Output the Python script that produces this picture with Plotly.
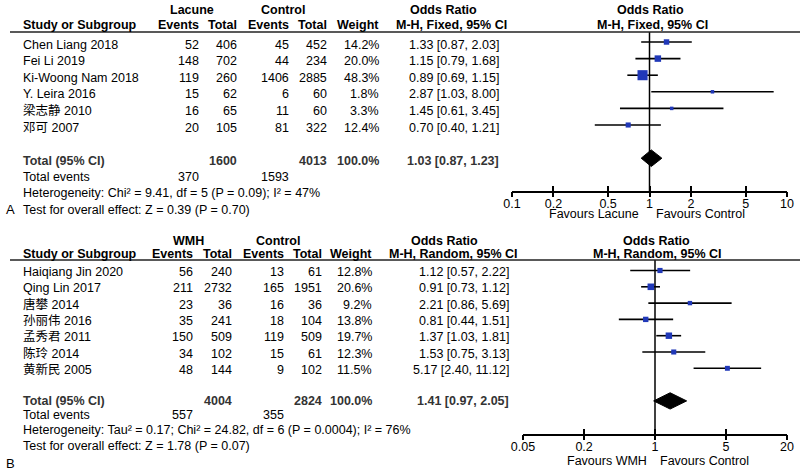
import math
import plotly.graph_objects as go

# ---------------- Data: Panel A (Lacune vs Control, M-H Fixed) ----------------
studiesA = ["Chen Liang 2018", "Fei Li 2019", "Ki-Woong Nam 2018", "Y. Leira 2016", "梁志静 2010", "邓可 2007"]
eventsLacune = [52, 148, 119, 15, 16, 20]
totalLacune = [406, 702, 260, 62, 65, 105]
eventsCtrlA = [45, 44, 1406, 6, 11, 81]
totalCtrlA = [452, 234, 2885, 60, 60, 322]
weightA = [14.2, 20.0, 48.3, 1.8, 3.3, 12.4]
orA = [1.33, 1.15, 0.89, 2.87, 1.45, 0.70]
loA = [0.87, 0.79, 0.69, 1.03, 0.61, 0.40]
hiA = [2.03, 1.68, 1.15, 8.00, 3.45, 1.21]
pooledA = [1.03, 0.87, 1.23]          # OR, lower, upper
sumTotalsA = [1600, 4013]
sumEventsA = [370, 1593]
hetA = "Heterogeneity: Chi² = 9.41, df = 5 (P = 0.09); I² = 47%"
testA = "Test for overall effect: Z = 0.39 (P = 0.70)"
ticksA = [0.1, 0.2, 0.5, 1, 2, 5, 10]
tickLabelsA = ["0.1", "0.2", "0.5", "1", "2", "5", "10"]

# ---------------- Data: Panel B (WMH vs Control, M-H Random) ----------------
studiesB = ["Haiqiang Jin 2020", "Qing Lin 2017", "唐攀 2014", "孙丽伟 2016", "孟秀君 2011", "陈玲 2014", "黄新民 2005"]
eventsWMH = [56, 211, 23, 35, 150, 34, 48]
totalWMH = [240, 2732, 36, 241, 509, 102, 144]
eventsCtrlB = [13, 165, 16, 18, 119, 15, 9]
totalCtrlB = [61, 1951, 36, 104, 509, 61, 102]
weightB = [12.8, 20.6, 9.2, 13.8, 19.7, 12.3, 11.5]
orB = [1.12, 0.91, 2.21, 0.81, 1.37, 1.53, 5.17]
loB = [0.57, 0.73, 0.86, 0.44, 1.03, 0.75, 2.40]
hiB = [2.22, 1.12, 5.69, 1.51, 1.81, 3.13, 11.12]
pooledB = [1.41, 0.97, 2.05]
sumTotalsB = [4004, 2824]
sumEventsB = [557, 355]
hetB = "Heterogeneity: Tau² = 0.17; Chi² = 24.82, df = 6 (P = 0.0004); I² = 76%"
testB = "Test for overall effect: Z = 1.78 (P = 0.07)"
ticksB = [0.05, 0.2, 1, 5, 20]
tickLabelsB = ["0.05", "0.2", "1", "5", "20"]

# ---------------- Layout helpers ----------------
W, H = 800, 474
FONT = "Liberation Sans, Arial, Noto Sans CJK SC, sans-serif"
FS = 12.5
BLUE = "#2038b8"


def px(x):
    return x / W


def py(y):
    return 1 - y / H


annotations = []
shapes = []


def txt(x, y, s, anchor="left", bold=False, size=FS, color="black"):
    if bold:
        s = "<b>" + s + "</b>"
    annotations.append(dict(x=px(x), y=py(y), xref="paper", yref="paper", text=s,
                            showarrow=False, xanchor=anchor, yanchor="middle", borderpad=0,
                            font=dict(family=FONT, size=size, color=color)))


def hline(y, x0=10, x1=800):
    shapes.append(dict(type="line", xref="paper", yref="paper", x0=px(x0), x1=px(x1),
                       y0=py(y), y1=py(y), line=dict(color="#222", width=1.5)))


fig = go.Figure()


def forest(studies, ors, los, his, weights, pooled, xa, ya):
    xs, ys = [], []
    for i, (l, h) in enumerate(zip(los, his)):
        xs += [l, h, None]
        ys += [i, i, None]
    fig.add_trace(go.Scatter(x=xs, y=ys, mode="lines", line=dict(color="black", width=1.6),
                             xaxis=xa, yaxis=ya, hoverinfo="skip", showlegend=False))
    sizes = [max(3.5, 1.45 * math.sqrt(w)) for w in weights]
    fig.add_trace(go.Scatter(x=ors, y=list(range(len(ors))), mode="markers",
                             marker=dict(symbol="square", size=sizes, color=BLUE, opacity=1,
                                         line=dict(width=0)),
                             xaxis=xa, yaxis=ya, showlegend=False))
    r = len(studies) + 1
    o, l, h = pooled
    fig.add_trace(go.Scatter(x=[l, o, h, o, l], y=[r, r - 0.5, r, r + 0.5, r], mode="lines",
                             fill="toself", fillcolor="black", line=dict(color="black", width=1),
                             xaxis=xa, yaxis=ya, showlegend=False, hoverinfo="skip"))
    shapes.append(dict(type="line", xref=xa, yref=ya + " domain", x0=1, x1=1, y0=0, y1=1,
                       line=dict(color="black", width=1.5)))


forest(studiesA, orA, loA, hiA, weightA, pooledA, "x", "y")
forest(studiesB, orB, loB, hiB, weightB, pooledB, "x2", "y2")
# invisible traces so that overlay (tick-only) axes are created
for xa, ya in [("x3", "y"), ("x5", "y"), ("x4", "y2"), ("x6", "y2")]:
    fig.add_trace(go.Scatter(x=[], y=[], xaxis=xa, yaxis=ya, showlegend=False))


def fmt_ci(o, l, h):
    return f"{o:.2f} [{l:.2f}, {h:.2f}]"


# ---------------- Panel A text ----------------
colA = dict(ev1=200, tot1=238, ev2=290, tot2=328, wt=380, orx=500)
txt(192, 10, "Lacune", "center", True)
txt(283, 10, "Control", "center", True)
txt(443, 10, "Odds Ratio", "center", True)
txt(650, 10, "Odds Ratio", "center", True)
txt(22, 25, "Study or Subgroup", "left", True)
txt(colA["ev1"], 25, "Events", "right", True)
txt(colA["tot1"], 25, "Total", "right", True)
txt(colA["ev2"], 25, "Events", "right", True)
txt(colA["tot2"], 25, "Total", "right", True)
txt(colA["wt"], 25, "Weight", "right", True)
txt(451, 25, "M-H, Fixed, 95% CI", "center", True)
txt(652, 25, "M-H, Fixed, 95% CI", "center", True)
hline(32)
rowA0, stepA = 42, 16.6
for i, s in enumerate(studiesA):
    y = rowA0 + stepA * i + 2.5
    txt(22, y, s)
    txt(colA["ev1"], y, str(eventsLacune[i]), "right")
    txt(colA["tot1"], y, str(totalLacune[i]), "right")
    txt(colA["ev2"], y, str(eventsCtrlA[i]), "right")
    txt(colA["tot2"], y, str(totalCtrlA[i]), "right")
    txt(colA["wt"], y, f"{weightA[i]:.1f}%", "right")
    txt(colA["orx"], y, fmt_ci(orA[i], loA[i], hiA[i]), "right")
yT = rowA0 + stepA * (len(studiesA) + 1) + 2.5
txt(22, yT, "Total (95% CI)", "left", True, color="#333")
txt(colA["tot1"], yT, str(sumTotalsA[0]), "right", True, color="#333")
txt(colA["tot2"], yT, str(sumTotalsA[1]), "right", True, color="#333")
txt(colA["wt"], yT, "100.0%", "right", True, color="#333")
txt(colA["orx"], yT, fmt_ci(*pooledA), "right", True, color="#333")
txt(22, 177, "Total events")
txt(colA["ev1"], 177, str(sumEventsA[0]), "right")
txt(colA["ev2"], 177, str(sumEventsA[1]), "right")
txt(22, 193, hetA)
txt(22, 210, testA)
txt(5, 210, "A", "left", size=13)
txt(640, 214, "Favours Lacune", "right")
txt(655, 214, "Favours Control", "left")

# ---------------- Panel B text ----------------
colB = dict(ev1=194, tot1=233, ev2=285, tot2=323, wt=373, orx=510)
txt(188, 241, "WMH", "center", True)
txt(278, 241, "Control", "center", True)
txt(444, 241, "Odds Ratio", "center", True)
txt(656, 241, "Odds Ratio", "center", True)
txt(22, 254, "Study or Subgroup", "left", True)
txt(colB["ev1"], 254, "Events", "right", True)
txt(colB["tot1"], 254, "Total", "right", True)
txt(colB["ev2"], 254, "Events", "right", True)
txt(colB["tot2"], 254, "Total", "right", True)
txt(colB["wt"], 254, "Weight", "right", True)
txt(453, 254, "M-H, Random, 95% CI", "center", True)
txt(657, 254, "M-H, Random, 95% CI", "center", True)
hline(260)
rowB0, stepB = 270.5, 16.3
for i, s in enumerate(studiesB):
    y = rowB0 + stepB * i + 1.5
    txt(22, y, s)
    txt(colB["ev1"], y, str(eventsWMH[i]), "right")
    txt(colB["tot1"], y, str(totalWMH[i]), "right")
    txt(colB["ev2"], y, str(eventsCtrlB[i]), "right")
    txt(colB["tot2"], y, str(totalCtrlB[i]), "right")
    txt(colB["wt"], y, f"{weightB[i]:.1f}%", "right")
    txt(colB["orx"], y, fmt_ci(orB[i], loB[i], hiB[i]), "right")
yT = rowB0 + stepB * (len(studiesB) + 1) + 0.5
txt(22, yT, "Total (95% CI)", "left", True, color="#333")
txt(colB["tot1"], yT, str(sumTotalsB[0]), "right", True, color="#333")
txt(colB["tot2"], yT, str(sumTotalsB[1]), "right", True, color="#333")
txt(colB["wt"], yT, "100.0%", "right", True, color="#333")
txt(colB["orx"], yT, fmt_ci(*pooledB), "right", True, color="#333")
txt(22, 415, "Total events")
txt(colB["ev1"], 415, str(sumEventsB[0]), "right")
txt(colB["ev2"], 415, str(sumEventsB[1]), "right")
txt(22, 430, hetB)
txt(22, 446, testB)
txt(5, 463, "B", "left", size=13)
txt(648, 461, "Favours WMH", "right")
txt(659, 461, "Favours Control", "left")

# ---------------- Axes ----------------
tickfont = dict(family=FONT, size=FS, color="black")


def main_axis(domain, rng, tv, tt, anchor):
    return dict(domain=domain, type="log", range=rng, tickvals=tv, ticktext=tt, ticks="",
                showline=True, linecolor="black", linewidth=1.5, showgrid=False, zeroline=False,
                anchor=anchor, tickfont=tickfont, fixedrange=True, automargin=False)


def tick_axis(over, rng, tv, anchor, where):
    return dict(overlaying=over, type="log", range=rng, tickvals=tv, ticks=where, ticklen=5,
                tickwidth=1.5, tickcolor="black", showticklabels=False, showline=False,
                showgrid=False, zeroline=False, anchor=anchor, side="bottom", automargin=False,
                fixedrange=True)


rngA = [math.log10(0.1), math.log10(10)]
rngB = [math.log10(0.05), math.log10(20)]
axisA_y, topA = 191, 32
axisB_y, topB = 434, 260

fig.update_layout(
    width=W, height=H, margin=dict(l=0, r=0, t=0, b=0, autoexpand=False),
    paper_bgcolor="white", plot_bgcolor="rgba(0,0,0,0)", showlegend=False,
    xaxis=main_axis([px(512), px(787)], rngA, ticksA, tickLabelsA, "y"),
    xaxis3=tick_axis("x", rngA, ticksA, "y", "inside"),
    xaxis5=tick_axis("x", rngA, ticksA, "y", "outside"),
    yaxis=dict(domain=[py(axisA_y), py(topA)], visible=False, fixedrange=True, automargin=False,
               range=[(axisA_y - rowA0) / stepA, (topA - rowA0) / stepA]),
    xaxis2=main_axis([px(523), px(787)], rngB, ticksB, tickLabelsB, "y2"),
    xaxis4=tick_axis("x2", rngB, ticksB, "y2", "inside"),
    xaxis6=tick_axis("x2", rngB, ticksB, "y2", "outside"),
    yaxis2=dict(domain=[py(axisB_y), py(topB)], visible=False, fixedrange=True, automargin=False,
                range=[(axisB_y - rowB0) / stepB, (topB - rowB0) / stepB]),
    annotations=annotations, shapes=shapes,
)

# remove the browser's default 8px page margin so the 800x474 figure fills the window
fig.write_html("out.html", config={"displayModeBar": False},
               post_script="document.body.style.margin='0';document.body.style.overflow='hidden';")
